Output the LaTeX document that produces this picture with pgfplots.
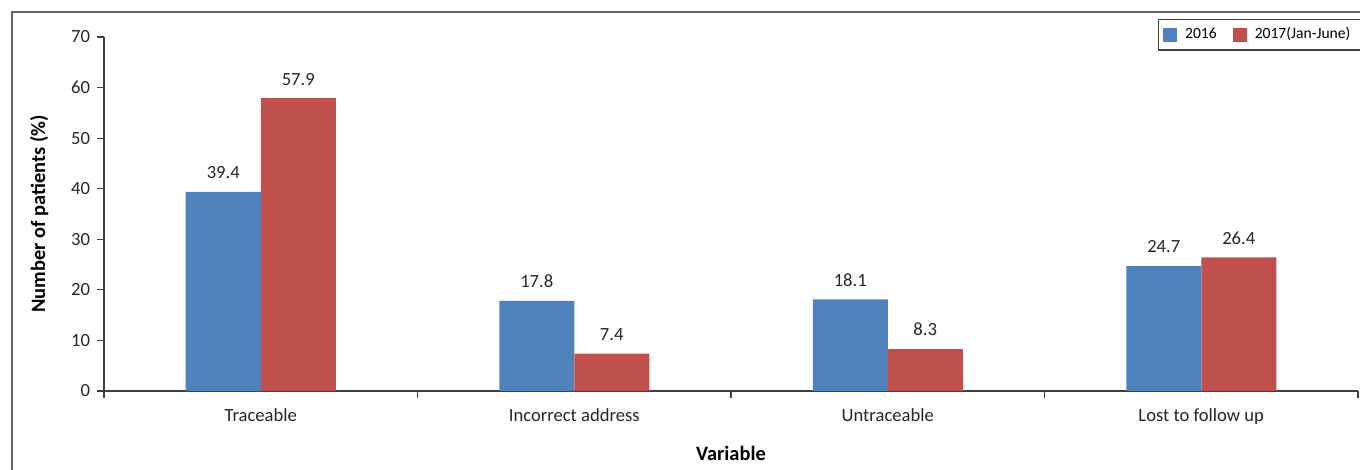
\documentclass[border=0pt]{standalone}
\usepackage{fontspec}
\setmainfont{Carlito}
\usepackage{pgfplots}
\pgfplotsset{compat=1.18}
\definecolor{cblue}{HTML}{4F81BD}
\definecolor{cred}{HTML}{C0504D}
\definecolor{axgray}{HTML}{404040}
\begin{document}
\begin{tikzpicture}
\useasboundingbox (0,0) rectangle (680bp,235bp);
\draw[gray!80!black, line width=0.6bp] (6bp,0) -- (6bp,229bp) -- (680bp,229bp);
\begin{axis}[
  at={(52bp,39.5bp)}, anchor=south west,
  scale only axis, width=627bp, height=177bp,
  ybar=0pt, bar width=37.5bp,
  xmin=-0.5, xmax=3.5, ymin=0, ymax=70,
  axis lines*=left,
  axis line style={axgray, line width=0.6bp},
  every tick/.style={axgray, line width=0.6bp},
  tick align=outside,
  xtick={0,1,2,3},
  xticklabels={Traceable, Incorrect address, Untraceable, Lost to follow up},
  major x tick style={draw=none},
  minor xtick={-0.5,0.5,1.5,2.5,3.5},
  minor tick length=3.5bp,
  major tick length=3.5bp,
  ytick={0,10,...,70},
  yticklabel style={/pgf/number format/.cd, fixed, precision=0, assume math mode=true},
  /pgf/number format/assume math mode=true,
  ticklabel style={font=\fontsize{9.3bp}{11bp}\selectfont, text=black!85},
  xticklabel style={yshift=-2bp},
  xlabel={\textbf{Variable}},
  ylabel={\textbf{Number of patients (\%)}},
  label style={font=\fontsize{10.2bp}{12bp}\selectfont},
  xlabel style={yshift=-4bp},
  ylabel style={yshift=4.5bp},
  nodes near coords,
  nodes near coords style={font=\fontsize{9.3bp}{11bp}\selectfont, text=black!85, yshift=3bp,
    /pgf/number format/.cd, fixed, precision=1, fixed zerofill, assume math mode=true},
  legend columns=2,
  legend style={at={(1,1)}, anchor=north east, yshift=9bp, xshift=3bp,
    font=\fontsize{7.8bp}{9bp}\selectfont, draw=axgray, line width=0.6bp,
    inner xsep=2.5bp, inner ysep=2bp,
    nodes={inner xsep=4bp},
    /tikz/every even column/.append style={column sep=4bp}},
  legend image code/.code={\fill[#1] (0bp,-3.5bp) rectangle (7bp,3.5bp);},
]
\addplot[fill=cblue, draw=none] coordinates {(0,39.4) (1,17.8) (2,18.1) (3,24.7)};
\addplot[fill=cred, draw=none] coordinates {(0,57.9) (1,7.4) (2,8.3) (3,26.4)};
\legend{2016, 2017(Jan-June)}
\end{axis}
\end{tikzpicture}
\end{document}
